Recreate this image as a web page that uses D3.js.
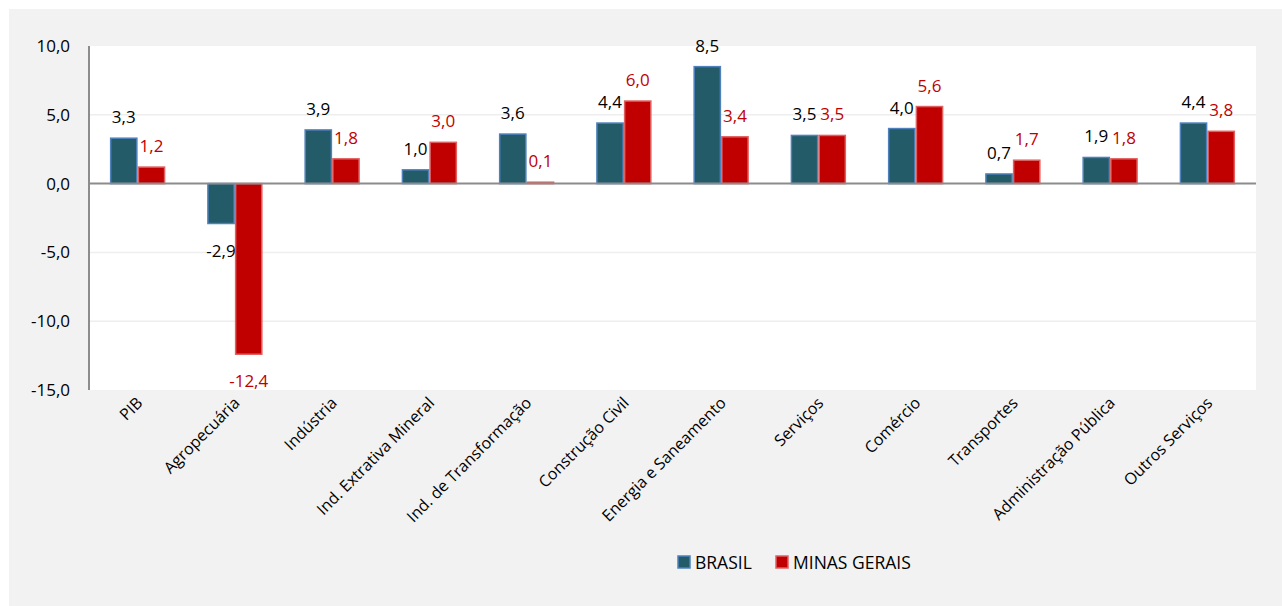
<!DOCTYPE html>
<html>
<head>
<meta charset="utf-8">
<script src="https://cdn.jsdelivr.net/npm/d3@7"></script>
<style>
    body { margin: 0; background: #ffffff; }
    svg { display: block; font-family: "Open Sans", "Noto Sans", sans-serif; }
</style>
</head>
<body>
<div id="chart"></div>
<script>
// Data
const categories = ["PIB", "Agropecuária", "Indústria", "Ind. Extrativa Mineral", "Ind. de Transformação",
    "Construção Civil", "Energia e Saneamento", "Serviços", "Comércio", "Transportes",
    "Administração Pública", "Outros Serviços"]
const brasil = [3.3, -2.9, 3.9, 1.0, 3.6, 4.4, 8.5, 3.5, 4.0, 0.7, 1.9, 4.4]
const minasGerais = [1.2, -12.4, 1.8, 3.0, 0.1, 6.0, 3.4, 3.5, 5.6, 1.7, 1.8, 3.8]
const yTicks = [10, 5, 0, -5, -10, -15]

const series = [
    { name: "BRASIL", values: brasil, fill: "#235b69", stroke: "#4f81bd", label: "#000000" },
    { name: "MINAS GERAIS", values: minasGerais, fill: "#c00000", stroke: "#e06060", label: "#c00000" }
]

const W = 1282, H = 606
const plot = { left: 89, right: 1256, top: 46, bottom: 390 }

const fmt = d => d3.format(".1f")(d).replace(".", ",").replace("−", "-")

const svg = d3.select("#chart").append("svg")
    .attr("width", W)
    .attr("height", H)

// gray panel and white plot area
svg.append("rect").attr("x", 9).attr("y", 9).attr("width", W - 9).attr("height", H - 9).attr("fill", "#f2f2f2")
svg.append("rect")
    .attr("x", plot.left).attr("y", plot.top)
    .attr("width", plot.right - plot.left).attr("height", plot.bottom - plot.top)
    .attr("fill", "#ffffff")

const y = d3.scaleLinear().domain([-15, 10]).range([plot.bottom, plot.top])
const x0 = d3.scaleBand().domain(categories).range([plot.left, plot.right]).paddingInner(0.43).paddingOuter(0.215)
const x1 = d3.scaleBand().domain(series.map(s => s.name)).range([0, x0.bandwidth()])

// grid lines
svg.append("g").selectAll("line")
    .data(yTicks.filter(t => t !== 0 && t !== -15 && t !== 10))
    .enter().append("line")
    .attr("x1", plot.left).attr("x2", plot.right)
    .attr("y1", d => y(d)).attr("y2", d => y(d))
    .attr("stroke", "#eeeeee").attr("stroke-width", 1.5)

// y tick labels
svg.append("g").selectAll("text")
    .data(yTicks)
    .enter().append("text")
    .attr("x", 70)
    .attr("y", d => y(d) + 6)
    .attr("text-anchor", "end")
    .attr("font-size", 17)
    .attr("fill", "#000")
    .text(fmt)

// bars
for (const s of series) {
    const g = svg.append("g")
    g.selectAll("rect")
        .data(s.values)
        .enter().append("rect")
        .attr("x", (d, i) => x0(categories[i]) + x1(s.name) + 0.75)
        .attr("y", d => y(Math.max(0, d)))
        .attr("width", x1.bandwidth() - 1.5)
        .attr("height", d => Math.abs(y(d) - y(0)))
        .attr("fill", s.fill)
        .attr("stroke", s.stroke)
        .attr("stroke-width", 1.5)

    g.selectAll("text")
        .data(s.values)
        .enter().append("text")
        .attr("x", (d, i) => x0(categories[i]) + x1(s.name) + x1.bandwidth() / 2)
        .attr("y", d => d >= 0 ? y(d) - 15 : y(d) + 33)
        .attr("text-anchor", "middle")
        .attr("font-size", 17)
        .attr("fill", s.label)
        .text(fmt)
}

// axes lines
svg.append("line")
    .attr("x1", plot.left).attr("x2", plot.right)
    .attr("y1", y(0)).attr("y2", y(0))
    .attr("stroke", "#8c8c8c").attr("stroke-width", 2)
svg.append("line")
    .attr("x1", plot.left).attr("x2", plot.left)
    .attr("y1", plot.top).attr("y2", plot.bottom)
    .attr("stroke", "#8c8c8c").attr("stroke-width", 2)

// category labels
svg.append("g").selectAll("text")
    .data(categories)
    .enter().append("text")
    .attr("transform", d => `translate(${x0(d) + x0.bandwidth() / 2 + 6},${plot.bottom + 14}) rotate(-45)`)
    .attr("text-anchor", "end")
    .attr("font-size", 16)
    .attr("fill", "#000")
    .text(d => d)

// legend
const legend = svg.append("g").attr("transform", "translate(678,556)")
const legendX = [0, 98]
series.forEach((s, i) => {
    legend.append("rect")
        .attr("x", legendX[i]).attr("y", 0)
        .attr("width", 12).attr("height", 12)
        .attr("fill", s.fill)
        .attr("stroke", s.stroke)
        .attr("stroke-width", 1.5)
    legend.append("text")
        .attr("x", legendX[i] + 17).attr("y", 13)
        .attr("font-size", 17.5)
        .attr("fill", "#000")
        .text(s.name)
})
</script>
</body>
</html>
